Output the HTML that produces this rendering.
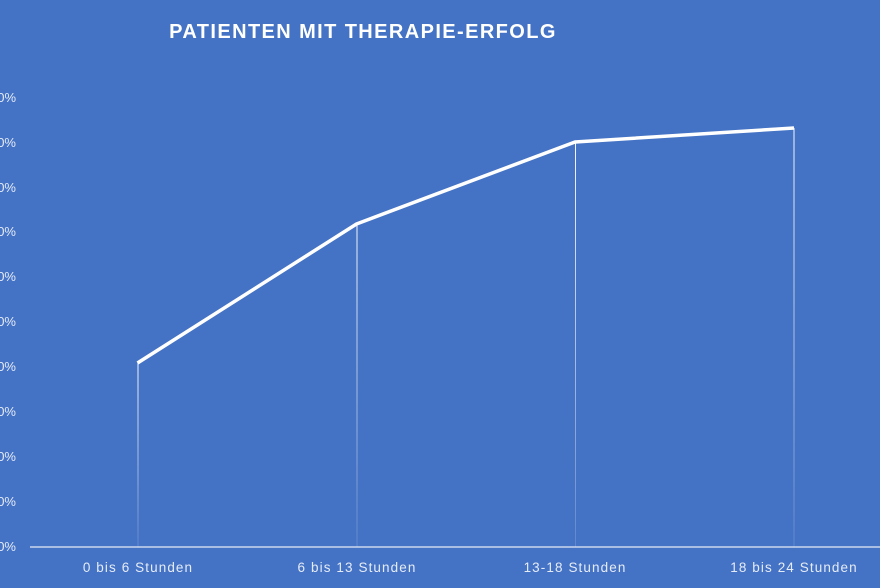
<!DOCTYPE html>
<html><head><meta charset="utf-8"><style>
html,body{margin:0;padding:0;background:#4472C4;}
svg{display:block}
text{font-family:"Liberation Sans",sans-serif;}
</style></head><body>
<svg width="880" height="588" viewBox="0 0 880 588">
<defs>
<linearGradient id="fade" x1="0" y1="0" x2="0" y2="1">
<stop offset="0" stop-color="#fff" stop-opacity="0.95"/>
<stop offset="1" stop-color="#fff" stop-opacity="0.15"/>
</linearGradient>
</defs>
<rect width="880" height="588" fill="#4472C4"/>
<text x="363" y="38" text-anchor="middle" fill="#fff" font-size="20" font-weight="bold" letter-spacing="1.4">PATIENTEN  MIT THERAPIE-ERFOLG</text>
<g fill="#e6ecf7" font-size="13" text-anchor="end">
<text x="16" y="102">100%</text>
<text x="16" y="147">90%</text>
<text x="16" y="192">80%</text>
<text x="16" y="236">70%</text>
<text x="16" y="281">60%</text>
<text x="16" y="326">50%</text>
<text x="16" y="371">40%</text>
<text x="16" y="416">30%</text>
<text x="16" y="461">20%</text>
<text x="16" y="506">10%</text>
<text x="16" y="551">0%</text>
</g>
<rect x="137.5" y="363" width="1" height="184" fill="url(#fade)"/>
<rect x="356.5" y="224" width="1" height="323" fill="url(#fade)"/>
<rect x="575" y="142" width="1" height="405" fill="url(#fade)"/>
<rect x="793.5" y="128" width="1" height="419" fill="url(#fade)"/>
<line x1="30" y1="547" x2="880" y2="547" stroke="#e6ecf7" stroke-width="1.2"/>
<polyline points="137.5,363 356.5,224 575,142 794,128" fill="none" stroke="#fff" stroke-width="3.5" stroke-linejoin="round"/>
<g fill="#e6ecf7" font-size="13.5" text-anchor="middle" letter-spacing="1.1">
<text x="138" y="572">0 bis 6 Stunden</text>
<text x="357" y="572">6 bis 13 Stunden</text>
<text x="575" y="572">13-18 Stunden</text>
<text x="794" y="572">18 bis 24 Stunden</text>
</g>
</svg>
</body></html>
